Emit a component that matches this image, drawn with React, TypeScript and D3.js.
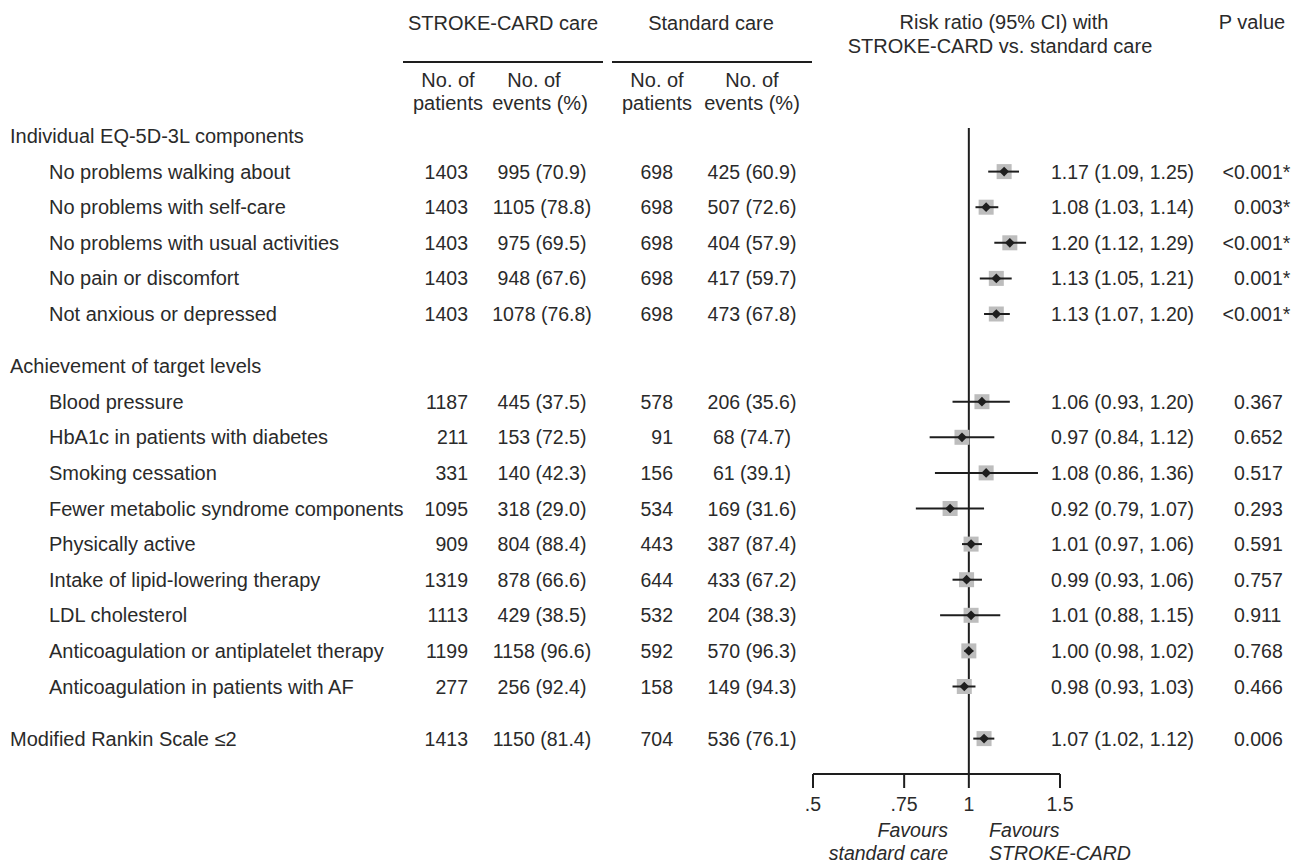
import React from "react";
import * as d3 from "d3";

const labels = [
  "Individual EQ-5D-3L components",
  "No problems walking about",
  "No problems with self-care",
  "No problems with usual activities",
  "No pain or discomfort",
  "Not anxious or depressed",
  "Achievement of target levels",
  "Blood pressure",
  "HbA1c in patients with diabetes",
  "Smoking cessation",
  "Fewer metabolic syndrome components",
  "Physically active",
  "Intake of lipid-lowering therapy",
  "LDL cholesterol",
  "Anticoagulation or antiplatelet therapy",
  "Anticoagulation in patients with AF",
  "Modified Rankin Scale \u22642",
];
// 0 = section heading, 1 = indented item, 2 = top-level item with data
const kinds = [0, 1, 1, 1, 1, 1, 0, 1, 1, 1, 1, 1, 1, 1, 1, 1, 2];
// number of extra spacers before each row
const gaps = [0, 0, 0, 0, 0, 0, 1, 1, 1, 1, 1, 1, 1, 1, 1, 1, 2];

const scPatients = [null, 1403, 1403, 1403, 1403, 1403, null, 1187, 211, 331, 1095, 909, 1319, 1113, 1199, 277, 1413];
const scEvents = [null, 995, 1105, 975, 948, 1078, null, 445, 153, 140, 318, 804, 878, 429, 1158, 256, 1150];
const scPct = [null, 70.9, 78.8, 69.5, 67.6, 76.8, null, 37.5, 72.5, 42.3, 29.0, 88.4, 66.6, 38.5, 96.6, 92.4, 81.4];
const stdPatients = [null, 698, 698, 698, 698, 698, null, 578, 91, 156, 534, 443, 644, 532, 592, 158, 704];
const stdEvents = [null, 425, 507, 404, 417, 473, null, 206, 68, 61, 169, 387, 433, 204, 570, 149, 536];
const stdPct = [null, 60.9, 72.6, 57.9, 59.7, 67.8, null, 35.6, 74.7, 39.1, 31.6, 87.4, 67.2, 38.3, 96.3, 94.3, 76.1];
const rr = [null, 1.17, 1.08, 1.2, 1.13, 1.13, null, 1.06, 0.97, 1.08, 0.92, 1.01, 0.99, 1.01, 1.0, 0.98, 1.07];
const ciLo = [null, 1.09, 1.03, 1.12, 1.05, 1.07, null, 0.93, 0.84, 0.86, 0.79, 0.97, 0.93, 0.88, 0.98, 0.93, 1.02];
const ciHi = [null, 1.25, 1.14, 1.29, 1.21, 1.2, null, 1.2, 1.12, 1.36, 1.07, 1.06, 1.06, 1.15, 1.02, 1.03, 1.12];
const pValues = [null, "<0.001*", "0.003*", "<0.001*", "0.001*", "<0.001*", null, "0.367", "0.652", "0.517", "0.293", "0.591", "0.757", "0.911", "0.768", "0.466", "0.006"];

const axisTicks = [0.5, 0.75, 1, 1.5];
const axisTickLabels = [".5", ".75", "1", "1.5"];

const W = 1293;
const H = 863;
const FONT = "'Liberation Sans', Arial, Helvetica, sans-serif";
const FS = 19.5;
const FS_WORDS = 20;
const TEXT = "#2a2a2a";
const LINE = "#1e1e1e";
const BOX = "#bdbdbd";

const x = d3.scaleLog().domain([0.5, 1.5]).range([813, 1060]);
const rowY = (i: number) => 136 + 35.6 * i + 16.5 * gaps[i];
const axisY = 774;

const fmt1 = d3.format(".1f");
const fmt2 = d3.format(".2f");

export default function App() {
  const t = (props: any, s: string, fs: number = FS) => (
    <text fontFamily={FONT} fontSize={fs} fill={TEXT} {...props}>
      {s}
    </text>
  );
  return (
    <svg
      width={W}
      height={H}
      style={{ position: "absolute", left: 0, top: 0, background: "#fff" }}
    >
      {/* column headers */}
      {t({ x: 503, y: 30, textAnchor: "middle" }, "STROKE-CARD care", FS_WORDS)}
      {t({ x: 711, y: 30, textAnchor: "middle" }, "Standard care", FS_WORDS)}
      <line x1={403} x2={603} y1={62} y2={62} stroke={LINE} strokeWidth={2} />
      <line x1={612} x2={812} y1={62} y2={62} stroke={LINE} strokeWidth={2} />
      {t({ x: 448, y: 87, textAnchor: "middle" }, "No. of", FS_WORDS)}
      {t({ x: 448, y: 110, textAnchor: "middle" }, "patients", FS_WORDS)}
      {t({ x: 534, y: 87, textAnchor: "middle" }, "No. of", FS_WORDS)}
      {t({ x: 540, y: 110, textAnchor: "middle" }, "events (%)", FS_WORDS)}
      {t({ x: 657, y: 87, textAnchor: "middle" }, "No. of", FS_WORDS)}
      {t({ x: 657, y: 110, textAnchor: "middle" }, "patients", FS_WORDS)}
      {t({ x: 752, y: 87, textAnchor: "middle" }, "No. of", FS_WORDS)}
      {t({ x: 752, y: 110, textAnchor: "middle" }, "events (%)", FS_WORDS)}
      {t({ x: 1004, y: 29, textAnchor: "middle" }, "Risk ratio (95% CI) with", FS_WORDS)}
      {t({ x: 1000, y: 53, textAnchor: "middle" }, "STROKE-CARD vs. standard care", FS_WORDS)}
      {t({ x: 1252, y: 29, textAnchor: "middle" }, "P value", FS_WORDS)}

      {/* reference line at 1 */}
      <line x1={x(1)} x2={x(1)} y1={128} y2={axisY} stroke={LINE} strokeWidth={2} />

      {labels.map((lab, i) => {
        const y = rowY(i);
        const ty = y + 7;
        const hasData = rr[i] != null;
        const p = pValues[i];
        return (
          <g key={i}>
            {t({ x: kinds[i] === 1 ? 49 : 10, y: ty }, lab, FS_WORDS)}
            {hasData && (
              <>
                {t({ x: 468, y: ty, textAnchor: "end" }, String(scPatients[i]))}
                {t({ x: 542, y: ty, textAnchor: "middle" }, `${scEvents[i]} (${fmt1(scPct[i] as number)})`)}
                {t({ x: 673, y: ty, textAnchor: "end" }, String(stdPatients[i]))}
                {t({ x: 752, y: ty, textAnchor: "middle" }, `${stdEvents[i]} (${fmt1(stdPct[i] as number)})`)}
                <rect
                  x={x(rr[i] as number) - 7.5}
                  y={y - 7.5}
                  width={15}
                  height={15}
                  fill={BOX}
                />
                <line
                  x1={x(ciLo[i] as number)}
                  x2={x(ciHi[i] as number)}
                  y1={y}
                  y2={y}
                  stroke={LINE}
                  strokeWidth={2}
                />
                <path
                  d={d3.symbol(d3.symbolDiamond2, 60)() as string}
                  transform={`translate(${x(rr[i] as number)},${y})`}
                  fill={LINE}
                />
                {t(
                  { x: 1051, y: ty },
                  `${fmt2(rr[i] as number)} (${fmt2(ciLo[i] as number)}, ${fmt2(ciHi[i] as number)})`
                )}
                {p && p.startsWith("<") && t({ x: 1234, y: ty, textAnchor: "end" }, "<")}
                {p && t({ x: 1234, y: ty }, p.replace("<", ""))}
              </>
            )}
          </g>
        );
      })}

      {/* axis */}
      <line x1={x(0.5)} x2={x(1.5)} y1={axisY} y2={axisY} stroke={LINE} strokeWidth={2} />
      {axisTicks.map((v, i) => (
        <g key={v}>
          <line x1={x(v)} x2={x(v)} y1={axisY} y2={axisY + 14} stroke={LINE} strokeWidth={2} />
          {t({ x: x(v), y: 811, textAnchor: "middle" }, axisTickLabels[i])}
        </g>
      ))}
      {t({ x: 948, y: 837, textAnchor: "end", fontStyle: "italic" }, "Favours")}
      {t({ x: 948, y: 860, textAnchor: "end", fontStyle: "italic" }, "standard care")}
      {t({ x: 989, y: 837, fontStyle: "italic" }, "Favours")}
      {t({ x: 989, y: 860, fontStyle: "italic" }, "STROKE-CARD")}
    </svg>
  );
}
